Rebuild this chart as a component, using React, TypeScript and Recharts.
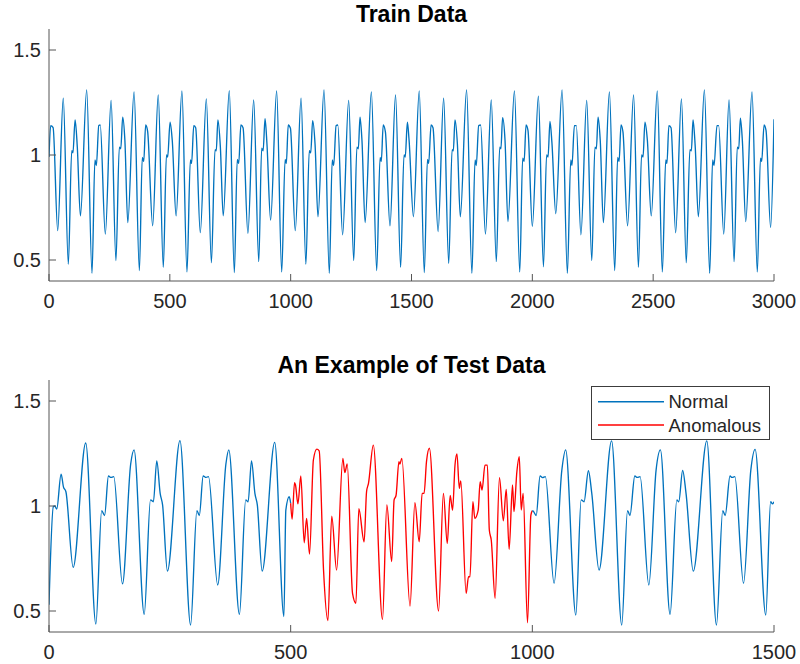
import React from "react";
import { LineChart, Line, XAxis, YAxis } from "recharts";

// [sample, value] points
const trainPts = [
  [0, 0.99], [7, 1.14], [17, 1.13], [36, 0.64], [59, 1.27], [80, 0.48], [94, 1.02], [99, 1.01], [108, 1.167], [117, 1.04],
  [130, 0.71], [156, 1.31], [178, 0.437], [190, 0.976], [196, 0.95], [206, 1.14], [212, 1.143], [233, 0.624], [257, 1.26], [277, 0.497],
  [291, 1.037], [297, 1.03], [305, 1.18], [314, 1.07], [326, 0.678], [352, 1.3], [374, 0.45], [386, 0.989], [392, 0.97], [400, 1.143],
  [408, 1.114], [429, 0.663], [452, 1.286], [473, 0.465], [486, 1.0], [491, 0.99], [501, 1.156], [510, 1.07], [526, 0.71], [550, 1.305],
  [571, 0.443], [585, 0.976], [590, 0.96], [599, 1.14], [607, 1.13], [626, 0.63], [651, 1.267], [672, 0.487], [687, 1.025], [692, 1.02],
  [699, 1.167], [709, 1.04], [721, 0.71], [746, 1.306], [767, 0.44], [779, 0.979], [785, 0.96], [794, 1.143], [803, 1.13], [823, 0.627],
  [847, 1.262], [868, 0.492], [880, 1.032], [886, 1.02], [894, 1.173], [902, 1.05], [917, 0.69], [942, 1.305], [963, 0.443], [977, 0.979],
  [982, 0.96], [990, 1.143], [999, 1.127], [1019, 0.64], [1043, 1.27], [1063, 0.48], [1077, 1.02], [1083, 1.01], [1091, 1.164], [1101, 1.05],
  [1113, 0.706], [1138, 1.31], [1160, 0.437], [1172, 0.976], [1178, 0.95], [1188, 1.14], [1195, 1.143], [1215, 0.62], [1240, 1.26], [1261, 0.497],
  [1274, 1.037], [1280, 1.03], [1287, 1.18], [1295, 1.07], [1308, 0.678], [1334, 1.3], [1356, 0.45], [1370, 0.989], [1375, 0.97], [1383, 1.143],
  [1392, 1.11], [1411, 0.663], [1434, 1.286], [1455, 0.465], [1469, 1.0], [1474, 0.99], [1483, 1.156], [1490, 1.07], [1508, 0.706], [1532, 1.305],
  [1553, 0.44], [1566, 0.979], [1571, 0.96], [1581, 1.143], [1589, 1.13], [1610, 0.635], [1633, 1.27], [1654, 0.484], [1668, 1.025], [1673, 1.02],
  [1680, 1.167], [1690, 1.05], [1702, 0.706], [1728, 1.31], [1750, 0.437], [1763, 0.976], [1768, 0.95], [1778, 1.14], [1786, 1.143], [1806, 0.624],
  [1830, 1.262], [1851, 0.492], [1865, 1.037], [1870, 1.03], [1877, 1.178], [1887, 1.07], [1899, 0.683], [1926, 1.305], [1948, 0.443], [1960, 0.985],
  [1966, 0.97], [1974, 1.143], [1982, 1.117], [2000, 0.66], [2025, 1.28], [2046, 0.468], [2059, 1.0], [2065, 0.99], [2073, 1.16], [2081, 1.06],
  [2097, 0.72], [2123, 1.31], [2145, 0.437], [2159, 0.976], [2164, 0.95], [2174, 1.14], [2182, 1.14], [2201, 0.62], [2225, 1.26], [2246, 0.497],
  [2259, 1.037], [2265, 1.03], [2272, 1.18], [2281, 1.07], [2294, 0.678], [2319, 1.3], [2341, 0.45], [2353, 0.989], [2359, 0.97], [2367, 1.143],
  [2375, 1.11], [2394, 0.663], [2419, 1.286], [2439, 0.465], [2452, 1.0], [2458, 0.99], [2466, 1.156], [2476, 1.07], [2492, 0.71], [2517, 1.305],
  [2538, 0.443], [2552, 0.976], [2557, 0.96], [2565, 1.14], [2574, 1.13], [2593, 0.63], [2617, 1.267], [2637, 0.487], [2652, 1.025], [2658, 1.02],
  [2665, 1.167], [2674, 1.04], [2687, 0.706], [2712, 1.31], [2734, 0.437], [2746, 0.976], [2752, 0.95], [2764, 1.14], [2771, 1.14], [2792, 0.624],
  [2814, 1.262], [2835, 0.492], [2848, 1.037], [2854, 1.03], [2861, 1.175], [2869, 1.07], [2883, 0.683], [2909, 1.3], [2931, 0.443], [2944, 0.985],
  [2949, 0.97], [2959, 1.143], [2967, 1.117], [2986, 0.655], [3000, 1.17],
];

const testNormalBefore = [
  [0, 0.53], [9, 0.997], [12, 1.0], [16, 0.985], [25, 1.152], [30, 1.09], [35, 1.068], [50, 0.708], [76, 1.3], [97, 0.438],
  [109, 0.978], [115, 0.955], [123, 1.143], [128, 1.136], [134, 1.14], [152, 0.629], [169, 1.2], [176, 1.267], [197, 0.484], [210, 1.029],
  [216, 1.02], [223, 1.215], [230, 1.06], [235, 1.005], [245, 0.69], [271, 1.311], [293, 0.433], [306, 0.978], [311, 0.955], [319, 1.143],
  [325, 1.136], [330, 1.14], [349, 0.624], [366, 1.2], [372, 1.267], [394, 0.484], [407, 1.029], [412, 1.02], [419, 1.215], [426, 1.06],
  [431, 1.005], [441, 0.69], [467, 1.303], [486, 0.474], [490, 0.98], [497, 1.044], [500, 1.013],
];

const testAnomalous = [
  [500, 1.013], [503, 0.937], [508, 1.111], [510, 1.1], [515, 1.01], [521, 1.143], [528, 0.825], [533, 0.941], [539, 0.771], [547, 1.219],
  [554, 1.271], [559, 1.263], [568, 0.695], [577, 0.454], [585, 0.952], [595, 0.695], [608, 1.227], [612, 1.159], [617, 1.2], [628, 0.584],
  [635, 0.537], [641, 0.987], [652, 0.829], [657, 1.068], [661, 1.108], [671, 1.29], [690, 0.46], [699, 1.005], [709, 0.735], [714, 1.029],
  [718, 1.05], [724, 1.211], [726, 1.2], [730, 1.227], [747, 0.524], [757, 1.016], [766, 0.83], [772, 1.06], [776, 1.06], [781, 1.211],
  [787, 1.275], [806, 0.5], [816, 1.06], [824, 0.822], [830, 1.05], [835, 0.98], [840, 1.195], [844, 1.248], [849, 1.084], [852, 1.12],
  [863, 0.584], [868, 0.663], [871, 0.663], [877, 1.021], [881, 0.941], [888, 0.98], [892, 1.116], [896, 1.076], [902, 1.195], [907, 1.195],
  [911, 0.886], [915, 0.838], [923, 0.56], [932, 1.135], [940, 0.93], [946, 1.079], [952, 0.794], [959, 1.1], [962, 0.973], [968, 1.163],
  [973, 1.235], [977, 0.981], [981, 1.06], [990, 0.444], [997, 0.957], [1000, 0.978],
];

const testNormalAfter = [
  [1000, 0.978], [1002, 0.975], [1008, 0.955], [1016, 1.143], [1021, 1.135], [1027, 1.14], [1045, 0.632], [1061, 1.17], [1069, 1.267], [1090, 0.481],
  [1101, 1.029], [1107, 1.02], [1116, 1.168], [1123, 1.06], [1138, 0.695], [1164, 1.31], [1185, 0.433], [1197, 0.978], [1202, 0.955], [1212, 1.143],
  [1217, 1.136], [1223, 1.14], [1241, 0.624], [1256, 1.17], [1265, 1.267], [1285, 0.484], [1299, 1.029], [1303, 1.02], [1311, 1.17], [1318, 1.06],
  [1333, 0.69], [1361, 1.31], [1381, 0.433], [1394, 0.978], [1399, 0.955], [1409, 1.143], [1413, 1.136], [1419, 1.14], [1437, 0.632], [1452, 1.17],
  [1461, 1.27], [1483, 0.481], [1493, 1.02], [1497, 1.01], [1500, 1.02],
];

const trainTicks = [0, 500, 1000, 1500, 2000, 2500, 3000];
const testTicks = [0, 500, 1000, 1500];
const yTicks = [0.5, 1, 1.5];

const FONT = "'Liberation Sans', Arial, sans-serif";
const TEXT = "#262626";
const BOX = "#555555";
const BLUE = "#0072BD";
const RED = "#FF0000";
const LW = 1.35;

const toRows = (pts: number[][]) => pts.map(([t, v]) => ({ t, v }));

const BottomTick = (props: any) => {
  const { x, y, payload } = props;
  return (
    <g>
      <line x1={x} y1={y} x2={x} y2={y - 7} stroke={BOX} />
      <text x={x} y={y + 27} textAnchor="middle" fontSize={20} fontFamily={FONT} fill={TEXT}>
        {payload.value}
      </text>
    </g>
  );
};

const LeftTick = (props: any) => {
  const { x, y, payload } = props;
  return (
    <g>
      <line x1={x} y1={y} x2={x + 7} y2={y} stroke={BOX} />
      <text x={x - 8} y={y + 7} textAnchor="end" fontSize={20} fontFamily={FONT} fill={TEXT}>
        {payload.value}
      </text>
    </g>
  );
};

const TopTick = (props: any) => {
  const { x, y } = props;
  return <line x1={x} y1={y} x2={x} y2={y + 7} stroke={BOX} />;
};

const RightTick = (props: any) => {
  const { x, y } = props;
  return <line x1={x} y1={y} x2={x - 7} y2={y} stroke={BOX} />;
};

const Panel = ({ xMax, ticks, marginTop, children }: any) => (
  <LineChart width={800} height={332} margin={{ top: marginTop, right: 26, bottom: 332 - marginTop - 252 - 30, left: 0 }}>
    <XAxis
      dataKey="t"
      type="number"
      domain={[0, xMax]}
      ticks={ticks}
      interval={0}
      allowDataOverflow
      height={30}
      tickSize={0}
      tickMargin={0}
      tickLine={false}
      axisLine={{ stroke: BOX }}
      tick={BottomTick}
    />
    <XAxis
      xAxisId="top"
      orientation="top"
      type="number"
      domain={[0, xMax]}
      ticks={ticks}
      interval={0}
      height={0}
      tickSize={0}
      tickMargin={0}
      tickLine={false}
      axisLine={{ stroke: BOX }}
      tick={TopTick}
    />
    <YAxis
      type="number"
      domain={[0.4, 1.6]}
      ticks={yTicks}
      interval={0}
      allowDataOverflow
      width={49}
      tickSize={0}
      tickMargin={0}
      tickLine={false}
      axisLine={{ stroke: BOX }}
      tick={LeftTick}
    />
    <YAxis
      yAxisId="right"
      orientation="right"
      type="number"
      domain={[0.4, 1.6]}
      ticks={yTicks}
      interval={0}
      width={0}
      tickSize={0}
      tickMargin={0}
      tickLine={false}
      axisLine={{ stroke: BOX }}
      tick={RightTick}
    />
    {children}
  </LineChart>
);

const titleStyle: React.CSSProperties = {
  position: "absolute",
  left: 49,
  width: 725,
  textAlign: "center",
  fontFamily: FONT,
  fontWeight: "bold",
  fontSize: 23,
  lineHeight: "23px",
  color: "#000",
};

const App = () => {
  return (
    <div style={{ position: "absolute", left: 0, top: 0, width: 800, height: 664, background: "#fff", overflow: "hidden" }}>
      <div style={{ ...titleStyle, top: 3 }}>Train Data</div>
      <div style={{ position: "absolute", left: 0, top: 0 }}>
        <Panel xMax={3000} ticks={trainTicks} marginTop={29}>
          <Line
            data={toRows(trainPts)}
            dataKey="v"
            type="monotone"
            stroke={BLUE}
            strokeWidth={LW}
            dot={false}
            activeDot={false}
            isAnimationActive={false}
          />
        </Panel>
      </div>

      <div style={{ ...titleStyle, top: 354 }}>An Example of Test Data</div>
      <div style={{ position: "absolute", left: 0, top: 332 }}>
        <Panel xMax={1500} ticks={testTicks} marginTop={48}>
          <Line
            data={toRows(testNormalBefore)}
            dataKey="v"
            name="Normal"
            type="monotone"
            stroke={BLUE}
            strokeWidth={LW}
            dot={false}
            activeDot={false}
            isAnimationActive={false}
          />
          <Line
            data={toRows(testAnomalous)}
            dataKey="v"
            name="Anomalous"
            type="monotone"
            stroke={RED}
            strokeWidth={LW}
            dot={false}
            activeDot={false}
            isAnimationActive={false}
          />
          <Line
            data={toRows(testNormalAfter)}
            dataKey="v"
            name="Normal "
            type="monotone"
            stroke={BLUE}
            strokeWidth={LW}
            dot={false}
            activeDot={false}
            isAnimationActive={false}
          />
        </Panel>
      </div>

      {/* legend box, like matlab's */}
      <svg width={180} height={55} style={{ position: "absolute", left: 591, top: 386 }}>
        <rect x={0.5} y={0.5} width={178} height={53} fill="#fff" stroke="#3c3c3c" />
        <line x1={7} y1={15.7} x2={73} y2={15.7} stroke={BLUE} strokeWidth={LW} />
        <text x={77.5} y={22.3} fontSize={18.5} fontFamily={FONT} fill={TEXT}>Normal</text>
        <line x1={7} y1={39} x2={73} y2={39} stroke={RED} strokeWidth={LW} />
        <text x={77.5} y={45.6} fontSize={18.5} fontFamily={FONT} fill={TEXT}>Anomalous</text>
      </svg>
    </div>
  );
};

export default App;
